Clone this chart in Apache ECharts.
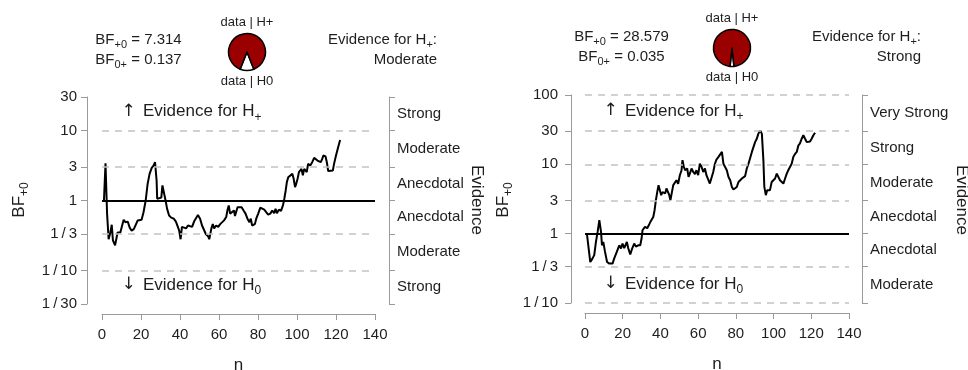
<!DOCTYPE html>
<html>
<head>
<meta charset="utf-8">
<script src="https://cdn.jsdelivr.net/npm/echarts@6/dist/echarts.min.js"></script>
<style>
  html, body { margin: 0; padding: 0; background: #fff; }
  #chart { width: 968px; height: 370px; }
</style>
</head>
<body>
<div id="chart"></div>
<script>
// sequential Bayes factor, [n, BF+0]
const leftSeq = [
  [1, 1.0], [1.8, 3.4], [2.6, 0.65], [3.4, 0.28], [4.3, 0.35], [5.0, 0.45], [5.6, 0.27], [6.7, 0.23],
  [8.0, 0.35], [9.4, 0.35], [10.4, 0.37], [11.1, 0.53], [12.0, 0.49], [13.2, 0.50], [14.2, 0.41],
  [15.2, 0.37], [16.3, 0.39], [17.3, 0.45], [18.3, 0.52], [19.3, 0.51], [20.3, 0.53], [21.3, 0.68],
  [22.4, 1.0], [23.4, 1.73], [24.4, 2.4], [25.5, 2.92], [26.5, 3.16], [27.2, 3.52], [28.0, 1.93],
  [28.3, 1.06], [29.3, 1.05], [30.4, 1.10], [31.0, 1.64], [31.7, 1.55], [32.6, 1.0], [33.4, 0.76],
  [34.4, 0.61], [35.5, 0.57], [36.8, 0.55], [37.9, 0.50], [38.9, 0.42], [39.6, 0.37], [40.3, 0.28],
  [41.0, 0.42], [42.0, 0.44], [43.1, 0.40], [44.1, 0.44], [45.1, 0.46], [46.2, 0.42], [47.2, 0.50],
  [48.2, 0.49], [49.2, 0.62], [50.3, 0.55], [51.3, 0.44], [52.3, 0.42], [53.3, 0.33], [54.4, 0.31],
  [55.0, 0.28], [56.1, 0.40], [56.8, 0.46], [57.5, 0.40], [58.5, 0.44], [59.6, 0.42], [60.6, 0.46],
  [61.6, 0.49], [62.6, 0.52], [63.7, 0.58], [64.3, 0.72], [65.0, 0.85], [65.7, 0.65], [66.7, 0.68],
  [67.7, 0.72], [68.2, 0.60], [69.5, 0.80], [70.5, 0.76], [71.6, 0.80], [72.6, 0.72], [73.6, 0.65],
  [74.6, 0.55], [75.6, 0.49], [76.3, 0.55], [77.0, 0.44], [77.7, 0.42], [78.4, 0.46], [79.1, 0.55],
  [80.1, 0.65], [81.2, 0.79], [82.2, 0.80], [83.2, 0.74], [84.2, 0.71], [85.2, 0.63], [86.3, 0.65],
  [87.3, 0.72], [88.3, 0.66], [89.0, 0.76], [89.7, 0.66], [90.7, 0.74], [91.8, 0.71], [92.8, 0.85],
  [93.5, 1.06], [94.2, 1.39], [94.8, 1.83], [95.5, 2.15], [96.5, 2.28], [97.6, 2.40], [98.3, 2.04],
  [99.0, 1.55], [99.6, 1.73], [100.3, 2.04], [101.0, 2.54], [101.7, 2.40], [102.3, 2.83], [103.0, 2.28],
  [103.7, 2.83], [104.4, 2.99], [105.0, 2.54], [105.7, 3.33], [106.8, 3.16], [107.8, 3.52], [108.8, 4.06],
  [109.8, 4.15], [110.5, 3.72], [111.5, 3.89], [112.2, 3.52], [112.9, 3.89], [113.5, 4.39], [114.6, 4.27],
  [115.3, 3.52], [116.0, 2.63], [117.0, 2.63], [118.4, 2.69], [119.0, 3.33], [120.0, 4.39], [121.1, 5.77],
  [122.1, 7.31]
];

const rightSeq = [
  [1, 1.0], [2.8, 0.39], [4.0, 0.44], [4.9, 0.49], [5.8, 0.76], [6.7, 1.06], [7.6, 1.57], [8.5, 1.06],
  [9.0, 0.68], [9.7, 0.76], [10.6, 0.55], [11.7, 0.39], [12.9, 0.37], [14.6, 0.37], [15.5, 0.44],
  [16.9, 0.55], [18.2, 0.68], [19.1, 0.61], [19.9, 0.72], [20.8, 0.62], [22.2, 0.76], [22.9, 0.62],
  [24.0, 0.50], [25.1, 0.62], [26.1, 0.72], [27.0, 0.65], [28.2, 0.68], [29.3, 0.68], [30.0, 0.85],
  [30.5, 1.12], [31.8, 1.25], [33.0, 1.20], [34.1, 1.37], [34.7, 1.48], [35.5, 1.57], [36.2, 1.74],
  [36.9, 2.18], [37.6, 3.04], [38.3, 3.98], [39.0, 5.01], [39.7, 4.24], [40.4, 3.59], [41.1, 3.98],
  [41.8, 4.17], [42.5, 3.80], [43.2, 4.48], [44.0, 4.27], [44.7, 3.59], [45.3, 3.04], [46.1, 3.98],
  [46.8, 5.01], [47.7, 4.73], [48.5, 5.89], [49.4, 5.25], [50.3, 6.97], [51.2, 8.22], [51.7, 11.5],
  [52.4, 9.23], [53.1, 8.22], [54.2, 8.71], [54.9, 6.58], [55.6, 7.36], [56.5, 8.71], [57.4, 7.76],
  [58.3, 7.24], [59.1, 8.22], [60.0, 6.97], [60.9, 10.2], [61.8, 9.23], [62.7, 7.76], [63.6, 8.71],
  [64.4, 6.97], [65.3, 6.58], [66.2, 5.28], [67.1, 5.01], [68.0, 7.76], [68.9, 10.2], [69.7, 11.7],
  [70.6, 12.6], [72.6, 15.1], [73.4, 10.2], [75.2, 8.22], [76.1, 6.58], [77.0, 5.89], [77.9, 4.72],
  [78.7, 4.33], [79.6, 4.24], [80.5, 4.72], [81.4, 5.57], [82.3, 5.89], [83.2, 6.24], [84.0, 6.24],
  [84.9, 6.76], [85.8, 8.71], [86.7, 10.2], [87.6, 10.2], [88.5, 15.1], [89.3, 15.8], [90.2, 20.9],
  [91.1, 23.4], [91.9, 27.5], [92.9, 30.9], [93.8, 27.5], [94.6, 11.5], [95.1, 4.72], [95.9, 3.59],
  [96.6, 4.24], [97.2, 4.47], [98.1, 4.24], [99.0, 5.57], [99.9, 5.57], [100.8, 6.24], [101.7, 7.36],
  [102.5, 6.97], [103.4, 5.89], [104.3, 6.24], [105.2, 5.28], [106.1, 6.24], [107.0, 7.36], [107.8, 8.22],
  [108.7, 8.71], [109.6, 10.2], [110.5, 12.9], [111.4, 14.1], [112.3, 15.1], [113.1, 18.6], [114.0, 20.0],
  [114.9, 23.4], [115.8, 26.3], [116.7, 23.4], [117.6, 20.9], [118.4, 21.9], [119.3, 21.4], [120.2, 23.4],
  [121.1, 26.3], [122.0, 28.58]
];

const leftTicks = [1 / 30, 1 / 10, 1 / 3, 1, 3, 10, 30];
const leftTickLabels = ['1\u2009/\u200930', '1\u2009/\u200910', '1\u2009/\u20093', '1', '3', '10', '30'];
const leftEvidence = ['Strong', 'Moderate', 'Anecdotal', 'Anecdotal', 'Moderate', 'Strong'];

const rightTicks = [1 / 10, 1 / 3, 1, 3, 10, 30, 100];
const rightTickLabels = ['1\u2009/\u200910', '1\u2009/\u20093', '1', '3', '10', '30', '100'];
const rightEvidence = ['Moderate', 'Anecdotal', 'Anecdotal', 'Moderate', 'Strong', 'Very Strong'];

const bfPlus0 = ['7.314', '28.579'];
const bf0Plus = ['0.137', '0.035'];
const verdict = ['Moderate', 'Strong'];

const font = '"Liberation Sans", Arial, sans-serif';
const arrowFont = '"DejaVu Sans", sans-serif';
const ink = '#1e1e1e';
const axisGrey = '#9a9a9a';
const darkRed = '#9b0000';

function nearestIdx(arr, v) {
  let best = 0;
  arr.forEach((a, i) => {
    if (Math.abs(a - v) < Math.abs(arr[best] - v)) best = i;
  });
  return best;
}

function xAxisFor(gi) {
  return {
    gridIndex: gi, type: 'value', min: 0, max: 140, interval: 20, offset: 10,
    name: 'n', nameLocation: 'middle', nameGap: 43,
    nameTextStyle: { fontFamily: font, fontSize: 17, color: ink },
    axisLine: { show: true, onZero: false, lineStyle: { color: axisGrey, width: 1 } },
    axisTick: { show: true, length: 6, lineStyle: { color: axisGrey } },
    axisLabel: { margin: 13, fontFamily: font, fontSize: 15, color: ink },
    splitLine: { show: false },
  };
}

function bfAxis(gi, ticks, labels, offset, margin) {
  const logs = ticks.map(Math.log10);
  return {
    gridIndex: gi, type: 'value', position: 'left', offset,
    min: logs[0], max: logs[logs.length - 1],
    axisLine: { show: true, onZero: false, lineStyle: { color: axisGrey, width: 1 } },
    axisTick: { show: true, length: 6, lineStyle: { color: axisGrey }, customValues: logs },
    axisLabel: {
      customValues: logs, margin, fontFamily: font, fontSize: 15, color: ink,
      formatter: (v) => labels[nearestIdx(logs, v)],
    },
    splitLine: { show: false },
  };
}

function evidenceAxis(gi, ticks, names, offset) {
  const logs = ticks.map(Math.log10);
  const mids = names.map((_, i) => (logs[i] + logs[i + 1]) / 2);
  return {
    gridIndex: gi, type: 'value', position: 'right', offset,
    min: logs[0], max: logs[logs.length - 1],
    axisLine: { show: true, onZero: false, lineStyle: { color: axisGrey, width: 1 } },
    axisTick: { show: true, length: 6, lineStyle: { color: axisGrey }, customValues: logs },
    axisLabel: {
      customValues: mids, margin: 8, fontFamily: font, fontSize: 15, color: ink,
      formatter: (v) => names[nearestIdx(mids, v)],
    },
    splitLine: { show: false },
  };
}

function guideSeries(xi, yi, ticks) {
  return {
    type: 'line', xAxisIndex: xi, yAxisIndex: yi, data: [], z: 1, silent: true,
    markLine: {
      silent: true, symbol: ['none', 'none'], label: { show: false },
      data: ticks.map((t) => ({
        yAxis: Math.log10(t),
        lineStyle: t === 1
          ? { color: '#000', width: 2, type: 'solid' }
          : { color: '#c2c2c2', width: 1.5, type: [7, 6] },
      })),
    },
  };
}

function seqSeries(xi, yi, seq) {
  return {
    type: 'line', xAxisIndex: xi, yAxisIndex: yi, z: 3, silent: true,
    showSymbol: false, symbol: 'none',
    lineStyle: { color: '#000', width: 2 },
    data: seq.map(([n, bf]) => [n, Math.log10(bf)]),
  };
}

function pieSeries(center, bf0) {
  const p0 = bf0 / (1 + bf0);
  return {
    type: 'pie', center, radius: 18.5, silent: true,
    startAngle: 270 + 180 * p0, clockwise: true,
    label: { show: false }, labelLine: { show: false }, emphasis: { disabled: true },
    itemStyle: { borderColor: '#000', borderWidth: 1.5 },
    data: [
      { name: 'data | H0', value: bf0, itemStyle: { color: '#fff' } },
      { name: 'data | H+', value: 1, itemStyle: { color: darkRed } },
    ],
  };
}

const richBase = {
  m: { fontFamily: font, fontSize: 15, fill: ink, lineHeight: 21 },
  s: { fontFamily: font, fontSize: 11, fill: ink, lineHeight: 21, verticalAlign: 'bottom' },
  M: { fontFamily: font, fontSize: 17, fill: ink, lineHeight: 24 },
  S: { fontFamily: font, fontSize: 12, fill: ink, lineHeight: 24, verticalAlign: 'bottom' },
};

function txt(x, y, text, size, align, rotation, family) {
  return {
    type: 'text', x, y, rotation: rotation || 0, silent: true,
    style: {
      text, fontFamily: family || font, fontSize: size, fill: ink,
      align, verticalAlign: 'middle', rich: richBase,
    },
  };
}

function panelText(p) {
  // p: geometry of one panel's text block
  return [
    txt(p.bfX, p.bfY1, '{m|BF}{s|+0}{m| = ' + p.bfA + '}', 15, 'center'),
    txt(p.bfX, p.bfY2, '{m|BF}{s|0+}{m| = ' + p.bfB + '}', 15, 'center'),
    txt(p.pieX, p.pieY - 30, 'data | H+', 13, 'center'),
    txt(p.pieX, p.pieY + 29, 'data | H0', 13, 'center'),
    txt(p.evX, p.bfY1, '{m|Evidence for H}{s|+}{m|:}', 15, 'right'),
    txt(p.evX, p.bfY2, p.verdict, 15, 'right'),
    txt(p.arrowX + 4.5, p.upY, '\u2191', 17, 'center', 0, arrowFont),
    txt(p.arrowX + 19, p.upY, '{M|Evidence for H}{S|+}', 17, 'left'),
    txt(p.arrowX + 4.5, p.downY, '\u2193', 17, 'center', 0, arrowFont),
    txt(p.arrowX + 19, p.downY, '{M|Evidence for H}{S|0}', 17, 'left'),
    txt(p.yTitleX, 200, '{M|BF}{S|+0}', 17, 'center', Math.PI / 2),
    txt(p.evTitleX, 200, 'Evidence', 17, 'center', -Math.PI / 2),
  ];
}

const chart = echarts.init(document.getElementById('chart'), null, { renderer: 'canvas' });

chart.setOption({
  animation: false,
  backgroundColor: '#fff',
  grid: [
    { left: 102, top: 97, width: 273, height: 207, show: false, outerBoundsMode: 'none' },
    { left: 585, top: 95, width: 264, height: 208, show: false, outerBoundsMode: 'none' },
  ],
  xAxis: [xAxisFor(0), xAxisFor(1)],
  yAxis: [
    bfAxis(0, leftTicks, leftTickLabels, 15, 10),
    evidenceAxis(0, leftTicks, leftEvidence, 14),
    bfAxis(1, rightTicks, rightTickLabels, 14, 13),
    evidenceAxis(1, rightTicks, rightEvidence, 13),
  ],
  series: [
    guideSeries(0, 0, leftTicks),
    seqSeries(0, 0, leftSeq),
    guideSeries(1, 2, rightTicks),
    seqSeries(1, 2, rightSeq),
    pieSeries([247, 52], parseFloat(bf0Plus[0])),
    pieSeries([732, 48], parseFloat(bf0Plus[1])),
  ],
  graphic: [
    ...panelText({
      bfX: 138.5, bfY1: 40, bfY2: 59.5, bfA: bfPlus0[0], bfB: bf0Plus[0],
      pieX: 247, pieY: 52, evX: 437, verdict: verdict[0],
      arrowX: 124, upY: 111.5, downY: 285, yTitleX: 19, evTitleX: 477,
    }),
    ...panelText({
      bfX: 621.5, bfY1: 37, bfY2: 57, bfA: bfPlus0[1], bfB: bf0Plus[1],
      pieX: 732, pieY: 48, evX: 921, verdict: verdict[1],
      arrowX: 606, upY: 111, downY: 284, yTitleX: 503, evTitleX: 962,
    }),
  ],
});
</script>
</body>
</html>
